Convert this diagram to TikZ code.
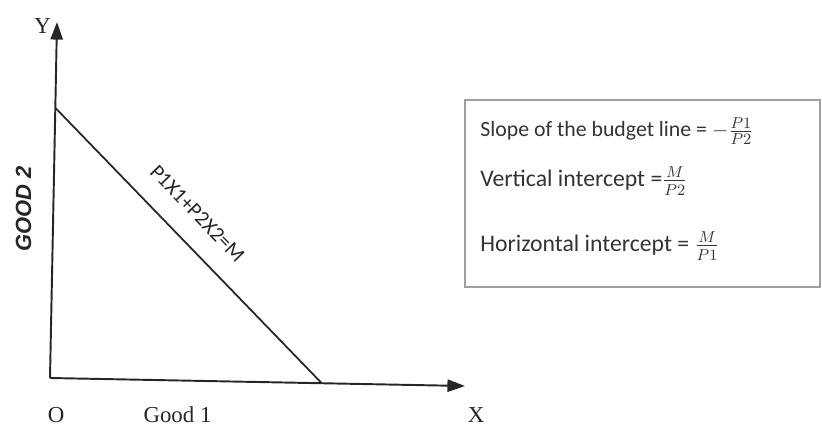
\documentclass[tikz,border=0pt]{standalone}
\usepackage{fontspec}
\setmainfont{Liberation Serif}
\newfontfamily\calibri{Carlito}
\newfontfamily\arialf{Liberation Sans}
\usetikzlibrary{arrows.meta, positioning}

\begin{document}
\begin{tikzpicture}[font=\fontsize{13}{15}\selectfont,
  axis/.style={draw=black!85,line width=1.1pt,-{Triangle[length=10pt,width=7pt]}},
  budget/.style={draw=black!85,line width=1pt},
  lbl/.style={inner sep=0pt,text=black!85},
  infobox/.style={rectangle,draw=gray!75,line width=1.3pt,
                  minimum width=7.1cm,minimum height=3.74cm},
  infoline/.style={anchor=base west,inner sep=0pt,text=black!80}]

  \useasboundingbox (0,0) rectangle (16.44,8.54);

  % --- axes ---
  \coordinate (o) at (1.00,0.98);
  \coordinate (ytip) at (1.14,8.10);
  \coordinate (xtip) at (9.30,0.82);
  \draw[axis] (o) -- (ytip);
  \draw[axis] (o) -- (xtip);

  \node[lbl] (ylab) at (0.85,8.02) {Y};
  \node[lbl] (olab) at (1.12,0.24) {O};
  \node[lbl] (gx) at (3.55,0.24) {Good 1};
  \node[lbl] (xlab) at (9.52,0.24) {X};
  \node[lbl,rotate=90,font=\arialf\bfseries\itshape\fontsize{12.5}{15}\selectfont]
       (gy) at (0.47,4.36) {GOOD 2};

  % --- budget line ---
  \coordinate (a) at (1.11,6.38);
  \coordinate (b) at (6.44,0.87);
  \draw[budget] (a) -- node[lbl,sloped,pos=0.455,above=0.42cm,
       font=\calibri\fontsize{12}{14}\selectfont] (eq) {P1X1+P2X2=M} (b);

  % --- formulas ---
  \node[infobox] (info) at (12.85,4.67) {};
  \node[infoline,font=\calibri\fontsize{12.4}{14}\selectfont] (slope) at (9.60,5.80)
       {Slope of the budget line = $-\frac{P1}{P2}$};
  \node[infoline,font=\calibri\fontsize{13.5}{16}\selectfont] (vint) at (9.60,4.80)
       {Vertical intercept =$\frac{M}{P2}$};
  \node[infoline,font=\calibri\fontsize{13.5}{16}\selectfont] (hint) at (9.60,3.50)
       {Horizontal intercept = $\frac{M}{P1}$};
\end{tikzpicture}
\end{document}
